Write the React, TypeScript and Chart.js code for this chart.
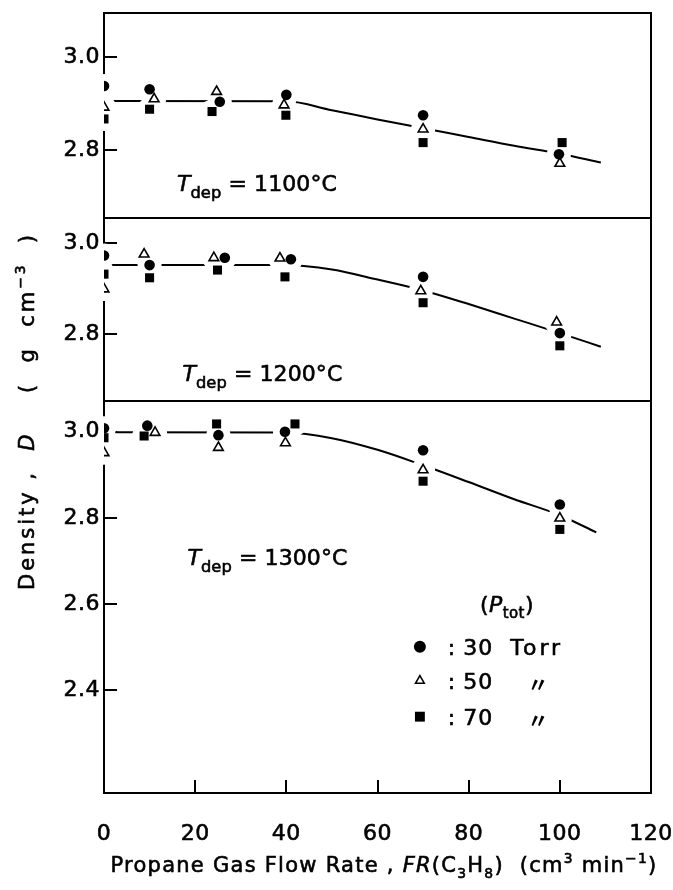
import React, { useEffect, useRef } from 'react';
import { Chart, registerables } from 'chart.js';

Chart.register(...registerables);

const FONT = "'DejaVu Sans', sans-serif";
const DITTO_FONT = "'Noto Sans CJK JP', sans-serif";

// Propane flow-rate axis (cm3/min)
const X_TICKS = [0, 20, 40, 60, 80, 100, 120];

// Density ticks of the three panels (g/cm3)
const Y_TICKS_1100 = [2.8, 3.0];
const Y_TICKS_1200 = [2.8, 3.0];
const Y_TICKS_1300 = [2.4, 2.6, 2.8, 3.0];

// Total pressures (Torr)
const PRESSURES = [30, 50, 70];

// T_dep = 1100 °C
const FR_1100_30 = [0, 10, 25.4, 40, 70, 99.8];
const D_1100_30 = [2.938, 2.931, 2.904, 2.919, 2.875, 2.791];
const FR_1100_50 = [0, 11, 24.7, 39.5, 70, 100];
const D_1100_50 = [2.892, 2.91, 2.926, 2.897, 2.845, 2.771];
const FR_1100_70 = [0, 10, 23.7, 39.9, 70, 100.5];
const D_1100_70 = [2.867, 2.888, 2.883, 2.875, 2.816, 2.816];
const FR_FIT_1100 = [1, 40, 50, 60, 70, 80, 90, 100, 109];
const D_FIT_1100 = [2.906, 2.905, 2.886, 2.866, 2.847, 2.828, 2.809, 2.792, 2.773];

// T_dep = 1200 °C
const FR_1200_30 = [0, 10, 26.5, 41, 70, 100];
const D_1200_30 = [2.973, 2.952, 2.968, 2.965, 2.926, 2.802];
const FR_1200_50 = [0, 8.8, 24.1, 38.6, 69.5, 99.3];
const D_1200_50 = [2.899, 2.976, 2.968, 2.967, 2.895, 2.826];
const FR_1200_70 = [0, 10, 24.9, 39.7, 70, 100];
const D_1200_70 = [2.932, 2.924, 2.941, 2.926, 2.869, 2.774];
const FR_FIT_1200 = [1, 40, 50, 60, 70, 80, 90, 100, 109];
const D_FIT_1200 = [2.952, 2.952, 2.942, 2.92, 2.896, 2.866, 2.834, 2.802, 2.772];

// T_dep = 1300 °C
const FR_1300_30 = [0, 9.5, 25.1, 39.7, 70, 100];
const D_1300_30 = [3.008, 3.014, 2.992, 3.0, 2.957, 2.831];
const FR_1300_50 = [0, 11.2, 25.1, 39.8, 70, 100];
const D_1300_50 = [2.951, 2.998, 2.963, 2.974, 2.911, 2.799];
const FR_1300_70 = [0, 8.8, 24.7, 41.9, 70, 100];
const D_1300_70 = [2.986, 2.99, 3.018, 3.018, 2.885, 2.773];
const FR_FIT_1300 = [1, 40, 50, 60, 70, 80, 90, 100, 108];
const D_FIT_1300 = [2.999, 2.998, 2.985, 2.958, 2.922, 2.883, 2.843, 2.806, 2.766];

// Panels, top to bottom: y range, share of the plot height, label anchor (FR, D)
const PANELS = [
  {
    id: 'y1100', temp: 1100, min: 2.6533, max: 3.0956, share: 205, order: 3, ticks: Y_TICKS_1100,
    fr: [FR_1100_30, FR_1100_50, FR_1100_70], d: [D_1100_30, D_1100_50, D_1100_70],
    fitFr: FR_FIT_1100, fitD: D_FIT_1100, labelAt: [16, 2.729],
  },
  {
    id: 'y1200', temp: 1200, min: 2.6523, max: 3.0558, share: 183, order: 2, ticks: Y_TICKS_1200,
    fr: [FR_1200_30, FR_1200_50, FR_1200_70], d: [D_1200_30, D_1200_50, D_1200_70],
    fitFr: FR_FIT_1200, fitD: D_FIT_1200, labelAt: [17.2, 2.714],
  },
  {
    id: 'y1300', temp: 1300, min: 2.1607, max: 3.0713, share: 392, order: 1, ticks: Y_TICKS_1300,
    fr: [FR_1300_30, FR_1300_50, FR_1300_70], d: [D_1300_30, D_1300_50, D_1300_70],
    fitFr: FR_FIT_1300, fitD: D_FIT_1300, labelAt: [18.3, 2.709],
  },
];

const MARKERS = [
  { pointStyle: 'circle', radius: 5.3, fill: '#000', borderWidth: 0 },
  { pointStyle: 'triangle', radius: 5.6, fill: '#fff', borderWidth: 1.6 },
  { pointStyle: 'rect', radius: 6.4, fill: '#000', borderWidth: 0 },
];

const TICK_LEN = 13;
const HALO_R = 12;
const TEXT_SIZE = 22;
const SPACING = 0.5;
const STROKE = 0.6;

const zip = (xs: number[], ys: number[]) => xs.map((x, i) => ({ x, y: ys[i] }));

type Run = { t: string; it?: boolean; sub?: boolean; sup?: boolean; scale?: number };

function runFont(r: Run, size: number) {
  const s = r.sub || r.sup ? size * (r.scale || 0.66) : size;
  return `${r.it ? 'italic ' : ''}${s}px ${FONT}`;
}
function runsWidth(ctx: any, runs: Run[], size: number, spacing: number) {
  let w = 0;
  ctx.letterSpacing = spacing + 'px';
  for (const r of runs) {
    ctx.font = runFont(r, size);
    w += ctx.measureText(r.t).width;
  }
  return w;
}
function charCount(runs: Run[]) {
  return runs.reduce((n, r) => n + Array.from(r.t).length, 0);
}
// draws mixed italic / subscript / superscript text on one baseline;
// when a width is given, letter spacing is chosen to fill it
function drawRuns(ctx: any, runs: Run[], x: number, y: number, size: number, align: 'left' | 'center', width?: number) {
  let spacing = SPACING;
  if (width) spacing = (width - runsWidth(ctx, runs, size, 0)) / charCount(runs);
  const w = runsWidth(ctx, runs, size, spacing);
  let cx = align === 'center' ? x - w / 2 : x;
  ctx.textAlign = 'left';
  ctx.textBaseline = 'alphabetic';
  ctx.letterSpacing = spacing + 'px';
  ctx.lineWidth = STROKE;
  ctx.strokeStyle = '#000';
  for (const r of runs) {
    ctx.font = runFont(r, size);
    const dy = r.sub ? size * 0.3 : r.sup ? -size * 0.42 : 0;
    ctx.fillText(r.t, cx, y + dy);
    ctx.strokeText(r.t, cx, y + dy);
    cx += ctx.measureText(r.t).width;
  }
}

function drawMarker(ctx: CanvasRenderingContext2D, k: number, x: number, y: number, r: number) {
  const m = MARKERS[k];
  ctx.save();
  ctx.fillStyle = m.fill;
  ctx.strokeStyle = '#000';
  ctx.lineWidth = m.borderWidth;
  ctx.beginPath();
  if (m.pointStyle === 'circle') {
    ctx.arc(x, y, r, 0, Math.PI * 2);
  } else if (m.pointStyle === 'triangle') {
    ctx.moveTo(x, y - r);
    ctx.lineTo(x + r * 0.866, y + r * 0.5);
    ctx.lineTo(x - r * 0.866, y + r * 0.5);
    ctx.closePath();
  } else {
    const h = r * Math.SQRT1_2;
    ctx.rect(x - h, y - h, 2 * h, 2 * h);
  }
  ctx.fill();
  if (m.borderWidth > 0) ctx.stroke();
  ctx.restore();
}

// Panel frames and inward tick marks
const framePlugin = {
  id: 'panelFrames',
  beforeDraw(chart: any) {
    chart.ctx.letterSpacing = SPACING + 'px';
  },
  beforeDatasetsDraw(chart: any) {
    const { ctx, chartArea: a, scales } = chart;
    ctx.save();
    ctx.strokeStyle = '#000';
    ctx.lineWidth = 2;
    ctx.beginPath();
    for (const p of PANELS) {
      const s = scales[p.id];
      ctx.rect(a.left, s.top, a.right - a.left, s.bottom - s.top);
      for (const v of p.ticks) {
        const y = Math.round(s.getPixelForValue(v));
        ctx.moveTo(a.left, y);
        ctx.lineTo(a.left + TICK_LEN, y);
      }
    }
    const xs = scales.x;
    for (const v of X_TICKS) {
      if (v <= xs.min || v >= xs.max) continue;
      const x = Math.round(xs.getPixelForValue(v));
      ctx.moveTo(x, a.bottom);
      ctx.lineTo(x, a.bottom - TICK_LEN);
    }
    ctx.stroke();
    ctx.restore();
    chart.$haloDone = false;
  },
  // white clearance around every marker, laid over the fitted curves and the frame
  beforeDatasetDraw(chart: any, args: any) {
    const ds = chart.data.datasets[args.index];
    if (!ds.isMarker || chart.$haloDone) return;
    chart.$haloDone = true;
    const { ctx, chartArea: a } = chart;
    ctx.save();
    ctx.beginPath();
    ctx.rect(a.left - 3, a.top + 2, a.right - a.left + 1, a.bottom - a.top - 4);
    ctx.clip();
    ctx.fillStyle = '#fff';
    chart.data.datasets.forEach((d: any, i: number) => {
      if (!d.isMarker) return;
      for (const el of chart.getDatasetMeta(i).data) {
        ctx.beginPath();
        ctx.arc(el.x, el.y, HALO_R, 0, Math.PI * 2);
        ctx.fill();
      }
    });
    ctx.restore();
  },
};

// Panel labels, pressure key and axis titles
const textPlugin = {
  id: 'richText',
  afterDraw(chart: any) {
    const { ctx, scales } = chart;
    const xs = scales.x;
    ctx.save();
    ctx.fillStyle = '#000';

    for (const p of PANELS) {
      const s = scales[p.id];
      const x = xs.getPixelForValue(p.labelAt[0]);
      const y = s.getPixelForValue(p.labelAt[1]) + 8;
      drawRuns(ctx, [
        { t: 'T', it: true },
        { t: 'dep', sub: true, scale: 0.74 },
        { t: ' = ' + p.temp + '°C' },
      ], x, y, TEXT_SIZE, 'left', 160);
    }

    // pressure key
    const ys = scales.y1300;
    drawRuns(ctx, [
      { t: '(' },
      { t: 'P', it: true },
      { t: 'tot', sub: true, scale: 0.68 },
      { t: ')' },
    ], xs.getPixelForValue(88.4), ys.getPixelForValue(2.6) + 8, TEXT_SIZE, 'center', 54);

    const rowsD = [2.5006, 2.4216, 2.338];
    const radii = [6, 5, 7];
    PRESSURES.forEach((pr, k) => {
      const y = ys.getPixelForValue(rowsD[k]);
      drawMarker(ctx, k, xs.getPixelForValue(69.3), y, radii[k]);
      drawRuns(ctx, [{ t: ':' }], xs.getPixelForValue(76.3), y + 8, TEXT_SIZE, 'center');
      drawRuns(ctx, [{ t: String(pr) }], xs.getPixelForValue(78.8), y + 8, TEXT_SIZE, 'left', 30);
      if (k === 0) {
        drawRuns(ctx, [{ t: 'Torr' }], xs.getPixelForValue(89.1), y + 8, TEXT_SIZE, 'left', 53);
      } else {
        ctx.letterSpacing = '0px';
        ctx.font = `bold 21px ${DITTO_FONT}`;
        ctx.textAlign = 'center';
        ctx.textBaseline = 'middle';
        ctx.fillText('〃', xs.getPixelForValue(95.2), y + 3);
      }
    });

    // x-axis title
    drawRuns(ctx, [
      { t: 'Propane Gas Flow Rate , ' },
      { t: 'FR', it: true },
      { t: '(C' },
      { t: '3', sub: true },
      { t: 'H' },
      { t: '8', sub: true },
      { t: ')  (cm' },
      { t: '3', sup: true },
      { t: ' min' },
      { t: '−1', sup: true },
      { t: ')' },
    ], 384, 872, 21, 'center', 547);

    // y-axis title, rotated
    ctx.translate(34, 411);
    ctx.rotate(-Math.PI / 2);
    drawRuns(ctx, [
      { t: 'Density ,  ' },
      { t: 'D', it: true },
      { t: '    (  g  cm' },
      { t: '−3', sup: true },
      { t: '  )' },
    ], 0, 0, 21, 'center', 358);
    ctx.restore();
  },
};

export default function App() {
  const ref = useRef<HTMLCanvasElement | null>(null);

  useEffect(() => {
    if (!ref.current) return;
    const datasets: any[] = [];
    for (const p of PANELS) {
      datasets.push({
        label: `fit ${p.temp} °C`,
        data: zip(p.fitFr, p.fitD),
        yAxisID: p.id,
        showLine: true,
        borderColor: '#000',
        borderWidth: 2,
        pointRadius: 0,
        cubicInterpolationMode: 'monotone',
        order: 10,
        isMarker: false,
      });
      PRESSURES.forEach((pr, k) => {
        datasets.push({
          label: `${pr} Torr, ${p.temp} °C`,
          data: zip(p.fr[k], p.d[k]),
          yAxisID: p.id,
          showLine: false,
          pointStyle: MARKERS[k].pointStyle,
          pointRadius: MARKERS[k].radius,
          pointBackgroundColor: MARKERS[k].fill,
          pointBorderColor: '#000',
          pointBorderWidth: MARKERS[k].borderWidth,
          order: k,
          isMarker: true,
        });
      });
    }

    const noPad = (s: any) => {
      s.paddingTop = 0;
      s.paddingBottom = 0;
      s.paddingLeft = 0;
      s.paddingRight = 0;
    };

    const scales: any = {
      x: {
        type: 'linear',
        position: 'bottom',
        min: 0,
        max: 120,
        grid: { display: false, drawTicks: false },
        border: { display: false },
        afterBuildTicks: (s: any) => { s.ticks = X_TICKS.map((v) => ({ value: v })); },
        afterFit: (s: any) => { s.height = 97; noPad(s); },
        ticks: {
          color: '#000',
          padding: 28,
          textStrokeColor: '#000',
          textStrokeWidth: STROKE,
          font: { family: FONT, size: TEXT_SIZE },
          maxRotation: 0,
          callback: (v: any) => String(v),
        },
      },
    };
    for (const p of PANELS) {
      scales[p.id] = {
        type: 'linear',
        axis: 'y',
        position: 'left',
        stack: 'panels',
        stackWeight: p.share,
        weight: p.order,
        min: p.min,
        max: p.max,
        grid: { display: false, drawTicks: false },
        border: { display: false },
        afterBuildTicks: (s: any) => { s.ticks = p.ticks.map((v) => ({ value: v })); },
        afterFit: (s: any) => { s.width = 104; noPad(s); },
        ticks: {
          color: '#000',
          padding: 4,
          textStrokeColor: '#000',
          textStrokeWidth: STROKE,
          font: { family: FONT, size: TEXT_SIZE },
          callback: (v: any) => Number(v).toFixed(1),
        },
      };
    }

    const chart = new Chart(ref.current, {
      type: 'scatter',
      data: { datasets },
      options: {
        responsive: false,
        animation: false,
        devicePixelRatio: 1,
        events: [],
        layout: { autoPadding: false, padding: { left: 0, top: 13, right: 22, bottom: 0 } },
        plugins: { legend: { display: false }, tooltip: { enabled: false } },
        scales,
      },
      plugins: [framePlugin, textPlugin],
    } as any);

    return () => chart.destroy();
  }, []);

  return (
    <div style={{ position: 'absolute', left: 0, top: 0, width: 673, height: 890, background: '#fff' }}>
      <canvas ref={ref} width={673} height={890} style={{ display: 'block' }} />
    </div>
  );
}
